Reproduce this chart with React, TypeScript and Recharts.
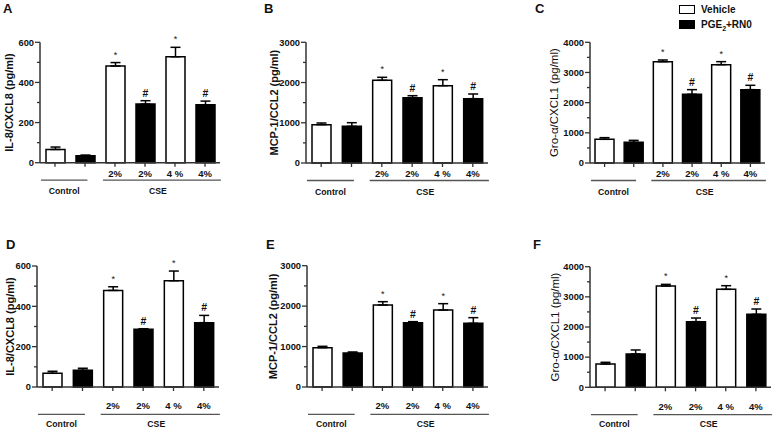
import React from "react";
import {
  BarChart,
  Bar,
  XAxis,
  YAxis,
  ErrorBar,
  Cell,
  LabelList,
  Legend,
} from "recharts";

const FONT = "'Liberation Sans', Arial, Helvetica, sans-serif";
const INK = "#111";
const AXIS = "#333";

// one bar per category
const categories = ["", "", "2%", "2%", "4 %", "4%"];
const groupNames = ["Control", "CSE"];
const groupOf = [0, 0, 1, 1, 1, 1];
const treatments = ["Vehicle", "PGE2+RN0"];
const treatmentOf = [0, 1, 0, 1, 0, 1];
const treatmentFill = ["#ffffff", "#000000"];
const marks = ["", "", "*", "#", "*", "#"];

const il8Ticks = [0, 100, 200, 300, 400, 500, 600];
const il8Labels = [0, 200, 400, 600];
const mcpTicks = [0, 500, 1000, 1500, 2000, 2500, 3000];
const mcpLabels = [0, 1000, 2000, 3000];
const groTicks = [0, 500, 1000, 1500, 2000, 2500, 3000, 3500, 4000];
const groLabels = [0, 1000, 2000, 3000, 4000];

// means and upper error (pg/ml)
const il8A = [66, 35, 482, 292, 528, 289];
const il8AErr = [12, 3, 17, 17, 47, 18];
const mcpB = [953, 911, 2055, 1624, 1922, 1599];
const mcpBErr = [41, 91, 75, 49, 149, 116];
const groC = [785, 685, 3359, 2276, 3260, 2431];
const groCErr = [55, 66, 55, 155, 99, 144];
const il8D = [68, 83, 479, 286, 527, 319];
const il8DErr = [10, 10, 18, 3, 48, 36];
const mcpE = [973, 841, 2028, 1591, 1904, 1575];
const mcpEErr = [33, 25, 82, 25, 157, 140];
const groF = [773, 1105, 3359, 2177, 3249, 2420];
const groFErr = [56, 133, 55, 121, 121, 177];

// group bracket styling
const groupInset = [1, 3];
const groupEndFrac = [0.58, 1.03];
const groupShift = [0, -4];

const rowTop = { tickDy: 10.5, lineDy: 17.5, groupDy: 28.5 };
const rowBottom = { tickDy: 18.7, lineDy: 27.3, groupDy: 36.5 };

const panels = [
  { letter: "A", lx: 3, ly: 13, left: 0, top: 0, w: 258, h: 215, x0: 40, x1: 220, y0: 42.3, y1: 162.7,
    ticks: il8Ticks, labels: il8Labels, title: "IL-8/CXCL8 (pg/ml)", titleBold: true, titleX: 9,
    values: il8A, errs: il8AErr, row: rowTop },
  { letter: "B", lx: 264, ly: 13, left: 258, top: 0, w: 258, h: 215, x0: 306, x1: 488, y0: 42.3, y1: 163,
    ticks: mcpTicks, labels: mcpLabels, title: "MCP-1/CCL2 (pg/ml)", titleBold: true, titleX: 273.5,
    values: mcpB, errs: mcpBErr, row: rowTop },
  { letter: "C", lx: 535, ly: 13, left: 516, top: 0, w: 260, h: 215, x0: 590, x1: 765, y0: 42.3, y1: 163,
    ticks: groTicks, labels: groLabels, title: "Gro-\u03b1/CXCL1 (pg/ml)", titleBold: false, titleX: 554,
    values: groC, errs: groCErr, row: rowTop, legend: true },
  { letter: "D", lx: 6, ly: 249, left: 0, top: 215, w: 258, h: 216, x0: 37, x1: 219, y0: 266, y1: 387,
    ticks: il8Ticks, labels: il8Labels, title: "IL-8/CXCL8 (pg/ml)", titleBold: true, titleX: 9.5,
    values: il8D, errs: il8DErr, row: rowBottom },
  { letter: "E", lx: 266, ly: 249, left: 258, top: 215, w: 258, h: 216, x0: 307, x1: 488, y0: 265.7, y1: 387,
    ticks: mcpTicks, labels: mcpLabels, title: "MCP-1/CCL2 (pg/ml)", titleBold: true, titleX: 272.5,
    values: mcpE, errs: mcpEErr, row: rowBottom },
  { letter: "F", lx: 533, ly: 249, left: 516, top: 215, w: 260, h: 216, x0: 590, x1: 771, y0: 266.7, y1: 387.3,
    ticks: groTicks, labels: groLabels, title: "Gro-\u03b1/CXCL1 (pg/ml)", titleBold: false, titleX: 555,
    values: groF, errs: groFErr, row: rowBottom },
];

const YTick = (props: any) => {
  const { x, y, payload, labels } = props;
  const major = labels.includes(payload.value);
  return (
    <g>
      <line x1={x - (major ? 5 : 3)} x2={x} y1={y} y2={y} stroke={AXIS} strokeWidth={1.3} />
      {major && (
        <text x={x - 6} y={y} dy="0.35em" textAnchor="end" fontFamily={FONT} fontWeight="bold" fontSize={9.3} fill={INK}>
          {payload.value}
        </text>
      )}
    </g>
  );
};

const XTick = (props: any) => {
  const { x, y, payload, band, row } = props;
  const i = Number(payload.value);
  const g = groupOf[i];
  const first = groupOf.indexOf(g);
  const last = groupOf.lastIndexOf(g);
  let bracket = null;
  if (i === first) {
    const start = x - band / 2;
    const gx1 = start + groupInset[g];
    const gx2 = start + (last - i) * band + band * groupEndFrac[g];
    bracket = (
      <g>
        <line x1={gx1} x2={gx2} y1={y + row.lineDy} y2={y + row.lineDy} stroke="#555" strokeWidth={1.3} />
        <text x={(gx1 + gx2) / 2 + groupShift[g]} y={y + row.groupDy} dominantBaseline="central" textAnchor="middle"
          fontFamily={FONT} fontWeight="bold" fontSize={8.7} fill={INK}>
          {groupNames[g]}
        </text>
      </g>
    );
  }
  return (
    <g>
      <line x1={x} x2={x} y1={y} y2={y + 4} stroke={AXIS} strokeWidth={1.3} />
      <text x={x} y={y + row.tickDy} dominantBaseline="central" textAnchor="middle"
        fontFamily={FONT} fontWeight="bold" fontSize={9.5} fill={INK}>
        {categories[i]}
      </text>
      {bracket}
    </g>
  );
};

const YTitle = (props: any) => {
  const { viewBox, text, bold, cx } = props;
  const cy = viewBox ? viewBox.y + viewBox.height / 2 : 0;
  return (
    <text transform={`translate(${cx},${cy}) rotate(-90)`} textAnchor="middle" dominantBaseline="central"
      fontFamily={FONT} fontWeight={bold ? "bold" : "normal"} fontSize={bold ? 11 : 11.5} fill={INK}>
      {text}
    </text>
  );
};

const markLabel = (values: number[], errs: number[]) => (props: any) => {
  const vb = props.viewBox ?? props;
  const i = props.index;
  if (!props.value || i == null) return null;
  const h = Math.abs(vb.height);
  const top = Math.min(vb.y, vb.y + vb.height);
  const errPx = values[i] ? (errs[i] * h) / values[i] : 0;
  const star = props.value === "*";
  return (
    <text x={vb.x + vb.width / 2} y={top - errPx - (star ? 5 : 4)} textAnchor="middle"
      fontFamily={FONT} fontWeight={star ? "normal" : "bold"} fontSize={star ? 9 : 10.5} fill={INK}>
      {props.value}
    </text>
  );
};

const treatmentText = (t: string) =>
  t.startsWith("PGE2") ? (
    <>
      PGE<span style={{ fontSize: 7, position: "relative", top: 3 }}>2</span>
      {t.slice(4)}
    </>
  ) : (
    t
  );

const LegendBox = () => (
  <div style={{ fontFamily: FONT, fontWeight: "bold", fontSize: 10, color: INK }}>
    {treatments.map((t, i) => (
      <div key={t} style={{ display: "flex", alignItems: "center", height: 15 }}>
        <span style={{ width: 14, height: 7, border: "1px solid #000", background: treatmentFill[i], marginRight: 6 }} />
        <span>{treatmentText(t)}</span>
      </div>
    ))}
  </div>
);

function Panel({ p }: { p: (typeof panels)[number] }) {
  const data = categories.map((_, i) => ({
    key: String(i),
    value: p.values[i],
    err: [0, p.errs[i]],
    mark: marks[i],
  }));
  const band = (p.x1 - p.x0) / categories.length;
  return (
    <div style={{ position: "absolute", left: p.left, top: p.top, width: p.w, height: p.h }}>
      <BarChart
        width={p.w}
        height={p.h}
        data={data}
        barSize={19}
        margin={{ top: p.y0 - p.top, right: p.left + p.w - p.x1, bottom: 0, left: 0 }}
      >
        <XAxis
          dataKey="key"
          interval={0}
          height={p.top + p.h - p.y1}
          tickSize={0}
          tickMargin={0}
          axisLine={{ stroke: AXIS, strokeWidth: 1.5 }}
          tick={<XTick band={band} row={p.row} />}
        />
        <YAxis
          type="number"
          domain={[0, p.ticks[p.ticks.length - 1]]}
          ticks={p.ticks}
          interval={0}
          width={p.x0 - p.left}
          tickSize={0}
          tickMargin={0}
          axisLine={{ stroke: AXIS, strokeWidth: 1.5 }}
          tick={<YTick labels={p.labels} />}
          label={<YTitle text={p.title} bold={p.titleBold} cx={p.titleX - p.left} />}
        />
        {p.legend && (
          <Legend
            layout="vertical"
            align="center"
            verticalAlign="middle"
            wrapperStyle={{ left: 163, top: 1.5, width: 100 }}
            content={() => <LegendBox />}
          />
        )}
        <Bar dataKey="value" stroke="#000" strokeWidth={1.5} isAnimationActive={false}>
          {data.map((_, i) => (
            <Cell key={i} fill={treatmentFill[treatmentOf[i]]} />
          ))}
          <ErrorBar dataKey="err" direction="y" width={5} stroke="#000" strokeWidth={1.5} isAnimationActive={false} />
          <LabelList dataKey="mark" content={markLabel(p.values, p.errs)} />
        </Bar>
      </BarChart>
    </div>
  );
}

export default function App() {
  return (
    <div style={{ position: "absolute", left: 0, top: 0, width: 776, height: 431, background: "#fff" }}>
      {panels.map((p) => (
        <Panel key={p.letter} p={p} />
      ))}
      <svg width={776} height={431} style={{ position: "absolute", left: 0, top: 0, pointerEvents: "none" }}>
        {panels.map((p) => (
          <text key={p.letter} x={p.lx} y={p.ly} fontFamily={FONT} fontWeight="bold" fontSize={13} fill={INK}>
            {p.letter}
          </text>
        ))}
      </svg>
    </div>
  );
}
